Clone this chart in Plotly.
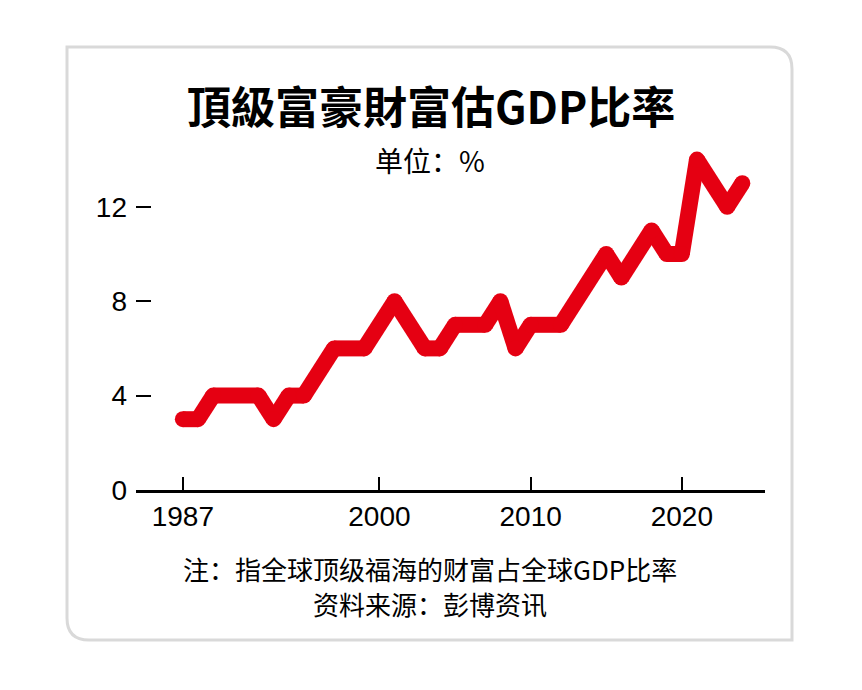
import plotly.graph_objects as go

# Données (sommets de la courbe)
annees = [1987, 1988, 1989, 1992, 1993, 1994, 1995, 1997, 1999, 2001, 2003, 2004,
          2005, 2007, 2008, 2009, 2010, 2012, 2015, 2016, 2018, 2019, 2020, 2021,
          2023, 2024]
ratio = [3, 3, 4, 4, 3, 4, 4, 6, 6, 8, 6, 6,
         7, 7, 8, 6, 7, 7, 10, 9, 11, 10, 10, 14,
         12, 13]

x_ticks = [1987, 2000, 2010, 2020]
y_ticks = [0, 4, 8, 12]
y_labels = ["0", "4", "8", "12"]

titre = "頂級富豪財富估GDP比率"
unite = "单位：%"
note = "注：指全球顶级福海的财富占全球GDP比率"
source = "资料来源：彭博资讯"

# la page ajoute une marge de 8 px autour de la figure
OFF = 8
W, H = 862 - 2 * OFF, 690 - 2 * OFF
L, R, T, B = 136 - OFF, 765 - OFF, 136 - OFF, 490 - OFF
RED = "#e50012"
CJK = "Noto Sans CJK SC"
LW = 16


def px(x):
    return (x - OFF - L) / (R - L)


def py(y):
    return (B - (y - OFF)) / (B - T)


# segments séparés + marqueurs ronds aux sommets = jointures arrondies
seg_x, seg_y = [], []
for i in range(len(annees) - 1):
    seg_x += [annees[i], annees[i + 1], None]
    seg_y += [ratio[i], ratio[i + 1], None]

fig = go.Figure()
fig.add_trace(go.Scatter(
    x=seg_x, y=seg_y, mode="lines", connectgaps=False,
    line=dict(color=RED, width=LW),
    hoverinfo="skip", showlegend=False,
))
fig.add_trace(go.Scatter(
    x=annees, y=ratio, mode="markers",
    marker=dict(color=RED, size=LW, line=dict(width=0)),
    hoverinfo="skip", showlegend=False,
))

# cadre gris, coins arrondis en haut à droite et en bas à gauche
x0, x1 = px(67), px(792)
y0, y1 = py(640), py(47)
rx, ry = 22 / (R - L), 22 / (B - T)
path = (f"M {x0},{y1} L {x1 - rx},{y1} Q {x1},{y1} {x1},{y1 - ry} "
        f"L {x1},{y0} L {x0 + rx},{y0} Q {x0},{y0} {x0},{y0 + ry} Z")
fig.add_shape(type="path", path=path, xref="paper", yref="paper",
              line=dict(color="#d9d9d9", width=3), layer="below")

textes = [
    (f"<b>{titre}</b>", 431, 105, 44),
    (unite, 430, 160, 28),
    (note, 430, 568, 26),
    (source, 430, 603, 26),
]
for txt, cx, cy, taille in textes:
    fig.add_annotation(text=txt, x=px(cx), y=py(cy), xref="paper", yref="paper",
                       xanchor="center", yanchor="middle", showarrow=False,
                       font=dict(family=CJK, size=taille, color="black"))

fig.update_layout(
    width=W, height=H,
    margin=dict(l=L, r=W - R, t=T, b=H - B),
    paper_bgcolor="white", plot_bgcolor="white",
    font=dict(family="Liberation Sans, Arial", size=28, color="black"),
    xaxis=dict(
        range=[1983.9, 2025.5], tickvals=x_ticks, ticks="inside", ticklen=13,
        tickwidth=2, tickcolor="black", showline=True, linewidth=2.5,
        linecolor="black", showgrid=False, zeroline=False,
        tickfont=dict(size=28),
    ),
    yaxis=dict(
        range=[0, 15], tickvals=y_ticks, ticktext=y_labels, ticks="inside",
        ticklen=15, tickwidth=2, tickcolor="black", showline=False,
        showgrid=False, zeroline=False, tickfont=dict(size=28),
        ticklabelstandoff=8,
    ),
)

fig.write_html("out.html")
